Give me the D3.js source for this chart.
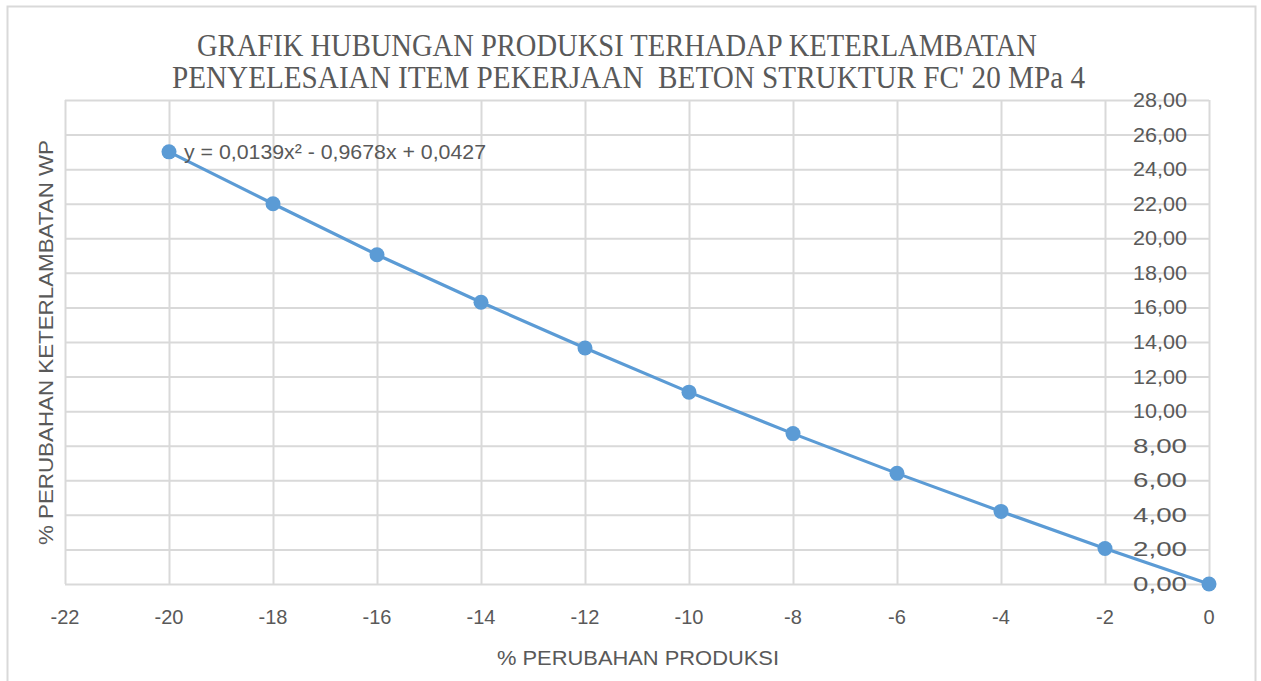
<!DOCTYPE html>
<html>
<head>
<meta charset="utf-8">
<script src="https://cdn.jsdelivr.net/npm/d3@7"></script>
<style>
  html, body { margin: 0; padding: 0; background: #fff; }
  svg { display: block; }
</style>
</head>
<body>
<svg id="chart" width="1261" height="681"></svg>
<script>
// Production change (%) against WP delay change (%)
const produksi = [-20, -18, -16, -14, -12, -10, -8, -6, -4, -2, 0];
const keterlambatan = [25.0, 22.0, 19.05, 16.3, 13.65, 11.1, 8.7, 6.4, 4.2, 2.05, 0.0];
const xTicks = [-22, -20, -18, -16, -14, -12, -10, -8, -6, -4, -2, 0];
const yTicks = [0, 2, 4, 6, 8, 10, 12, 14, 16, 18, 20, 22, 24, 26, 28];
const titleLines = [
  "GRAFIK HUBUNGAN PRODUKSI TERHADAP KETERLAMBATAN",
  "PENYELESAIAN ITEM PEKERJAAN  BETON STRUKTUR FC' 20 MPa 4"
];
const equation = "y = 0,0139x² - 0,9678x + 0,0427";

const svg = d3.select("#chart");
const plot = { left: 65, right: 1209, top: 100, bottom: 584 };
const grid = "#d9d9d9";
const ink = "#595959";
const blue = "#5b9bd5";
const sans = "'Liberation Sans', Arial, sans-serif";

// chart frame
svg.append("rect")
  .attr("x", 7.5).attr("y", 6.5)
  .attr("width", 1248).attr("height", 690)
  .attr("fill", "#fff").attr("stroke", grid).attr("stroke-width", 2);

const x = d3.scaleLinear().domain([-22, 0]).range([plot.left, plot.right]);
const y = d3.scaleLinear().domain([0, 28]).range([plot.bottom, plot.top]);

// gridlines
const gx = svg.append("g")
  .attr("transform", `translate(0,${plot.bottom})`)
  .call(d3.axisBottom(x).tickValues(xTicks).tickSize(-(plot.bottom - plot.top)).tickFormat(""));
gx.select(".domain").remove();
gx.selectAll("line").attr("stroke", grid).attr("stroke-width", 2);

const gy = svg.append("g")
  .attr("transform", `translate(${plot.right},0)`)
  .call(d3.axisRight(y).tickValues(yTicks).tickSize(-(plot.right - plot.left)).tickFormat(""));
gy.select(".domain").remove();
gy.selectAll("line").attr("stroke", grid).attr("stroke-width", 2);

// x tick labels
const fmtX = d => d3.format("d")(d).replace("−", "-");
svg.append("g").selectAll("text")
  .data(xTicks).join("text")
  .attr("x", d => x(d)).attr("y", 624)
  .attr("text-anchor", "middle")
  .attr("font-family", sans).attr("font-size", 20)
  .attr("fill", ink)
  .text(fmtX);

// y tick labels (comma decimal)
const fmtY = d => d3.format(".2f")(d).replace(".", ",");
svg.append("g").selectAll("text")
  .data(yTicks).join("text")
  .attr("x", 1187).attr("y", d => y(d))
  .attr("dy", "0.35em")
  .attr("text-anchor", "end")
  .attr("font-family", sans).attr("font-size", 20)
  .attr("textLength", 54)
  .attr("lengthAdjust", "spacingAndGlyphs")
  .attr("fill", ink)
  .text(fmtY);

// series line and markers
const line = d3.line().x((d, i) => x(produksi[i])).y(d => y(d));
svg.append("path")
  .datum(keterlambatan)
  .attr("d", line)
  .attr("fill", "none")
  .attr("stroke", blue)
  .attr("stroke-width", 3.2);

svg.append("g").selectAll("circle")
  .data(keterlambatan).join("circle")
  .attr("cx", (d, i) => x(produksi[i]))
  .attr("cy", d => y(d))
  .attr("r", 7.5)
  .attr("fill", blue);

// trendline equation
svg.append("text")
  .attr("x", 184).attr("y", 159)
  .attr("font-family", sans).attr("font-size", 20)
  .attr("textLength", 302)
  .attr("lengthAdjust", "spacingAndGlyphs")
  .attr("fill", ink)
  .text(equation);

// title
svg.append("g").selectAll("text")
  .data(titleLines).join("text")
  .attr("x", (d, i) => i === 0 ? 197 : 172)
  .attr("y", (d, i) => 56 + i * 32)
  .attr("textLength", (d, i) => i === 0 ? 840 : 913)
  .attr("lengthAdjust", "spacingAndGlyphs")
  .attr("font-family", "'Liberation Serif', 'Times New Roman', serif")
  .attr("font-size", 31)
  .style("white-space", "pre")
  .attr("fill", ink)
  .text(d => d);

// axis titles
svg.append("text")
  .attr("x", 497).attr("y", 665)
  .attr("textLength", 282)
  .attr("lengthAdjust", "spacingAndGlyphs")
  .attr("font-family", sans).attr("font-size", 20)
  .attr("fill", ink)
  .text("% PERUBAHAN PRODUKSI");

svg.append("text")
  .attr("transform", "translate(53,545) rotate(-90)")
  .attr("textLength", 405)
  .attr("lengthAdjust", "spacingAndGlyphs")
  .attr("font-family", sans).attr("font-size", 20)
  .attr("fill", ink)
  .text("% PERUBAHAN KETERLAMBATAN WP");
</script>
</body>
</html>
